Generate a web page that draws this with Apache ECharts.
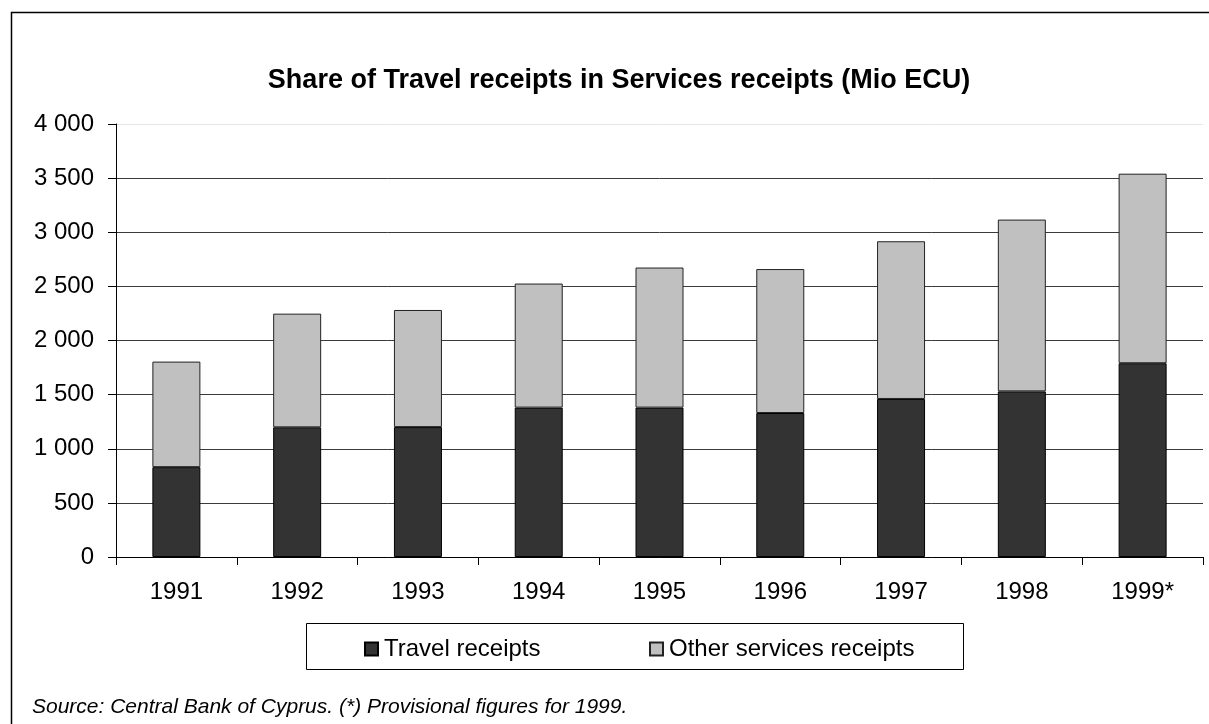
<!DOCTYPE html>
<html>
<head>
<meta charset="utf-8">
<title>Share of Travel receipts in Services receipts</title>
<script src="https://cdn.jsdelivr.net/npm/echarts@6/dist/echarts.min.js"></script>
<style>
  html, body { margin: 0; padding: 0; background: #fff; }
  #chart { width: 1209px; height: 724px; }
</style>
</head>
<body>
<div id="chart"></div>
<script>
// Services receipts of Cyprus, Mio ECU
const years = ['1991', '1992', '1993', '1994', '1995', '1996', '1997', '1998', '1999*'];
const travelReceipts = [830, 1198, 1200, 1380, 1380, 1330, 1460, 1530, 1790];
const otherServicesReceipts = [975, 1050, 1082, 1146, 1294, 1330, 1457, 1587, 1751];
const yTickLabels = ['0', '500', '1 000', '1 500', '2 000', '2 500', '3 000', '3 500', '4 000'];
const yStep = 500;

const titleText = 'Share of Travel receipts in Services receipts (Mio ECU)';
const sourceText = 'Source: Central Bank of Cyprus. (*) Provisional figures for 1999.';

const FONT = 'Arial, "Liberation Sans", Helvetica, sans-serif';

const chart = echarts.init(document.getElementById('chart'));

chart.setOption({
  backgroundColor: '#ffffff',
  animation: false,
  title: {
    text: titleText,
    left: 614,
    textAlign: 'center',
    top: 62,
    textStyle: { fontFamily: FONT, fontSize: 27, fontWeight: 'bold', color: '#000' }
  },
  legend: [
    {
      data: ['Travel receipts'],
      icon: 'rect',
      left: 359,
      top: 632,
      itemWidth: 13,
      itemHeight: 13,
      itemGap: 0,
      textStyle: { fontFamily: FONT, fontSize: 24, color: '#000', padding: [0, 0, 0, 1] }
    },
    {
      data: ['Other services receipts'],
      icon: 'rect',
      left: 644,
      top: 632,
      itemWidth: 13,
      itemHeight: 13,
      itemGap: 0,
      textStyle: { fontFamily: FONT, fontSize: 24, color: '#000', padding: [0, 0, 0, 1] }
    }
  ],
  grid: { left: 116, right: 6, top: 124, bottom: 167, containLabel: false },
  xAxis: {
    type: 'category',
    data: years,
    boundaryGap: true,
    axisLine: { show: true, lineStyle: { color: '#000', width: 1 } },
    axisTick: { show: true, length: 8, inside: false, lineStyle: { color: '#000' } },
    axisLabel: { fontFamily: FONT, fontSize: 24, color: '#000', margin: 23 },
    splitLine: { show: false }
  },
  yAxis: {
    type: 'value',
    min: 0,
    max: 4000,
    interval: yStep,
    axisLine: { show: true, lineStyle: { color: '#000', width: 1 } },
    axisTick: { show: true, length: 8, lineStyle: { color: '#000' } },
    axisLabel: {
      fontFamily: FONT,
      fontSize: 24,
      color: '#000',
      margin: 22,
      formatter: function (v) { return yTickLabels[Math.round(v / yStep)]; }
    },
    splitLine: {
      show: true,
      lineStyle: {
        color: ['#333', '#3a3a3a', '#3a3a3a', '#3a3a3a', '#3a3a3a', '#3a3a3a', '#3a3a3a', '#3a3a3a', '#e6e6e6'],
        width: 1
      }
    }
  },
  series: [
    {
      name: 'Travel receipts',
      type: 'bar',
      stack: 'services',
      data: travelReceipts,
      barWidth: 48,
      itemStyle: { color: '#333333', borderColor: '#000', borderWidth: 1 }
    },
    {
      name: 'Other services receipts',
      type: 'bar',
      stack: 'services',
      data: otherServicesReceipts,
      barWidth: 48,
      itemStyle: { color: '#c0c0c0', borderColor: '#222', borderWidth: 1 }
    }
  ],
  graphic: [
    {
      // outer chart frame (open to the right and bottom)
      type: 'rect',
      silent: true,
      shape: { x: 11.5, y: 12.5, width: 1400, height: 900 },
      style: { fill: 'none', stroke: '#000', lineWidth: 1.5 }
    },
    {
      // legend box
      type: 'rect',
      silent: true,
      shape: { x: 306.5, y: 623.5, width: 657, height: 46 },
      style: { fill: 'none', stroke: '#000', lineWidth: 1 }
    },
    {
      type: 'text',
      silent: true,
      x: 32,
      y: 707,
      style: {
        text: sourceText,
        fontFamily: FONT,
        fontSize: 21,
        fontStyle: 'italic',
        fill: '#000',
        textVerticalAlign: 'middle',
        verticalAlign: 'middle'
      }
    }
  ]
});
</script>
</body>
</html>
